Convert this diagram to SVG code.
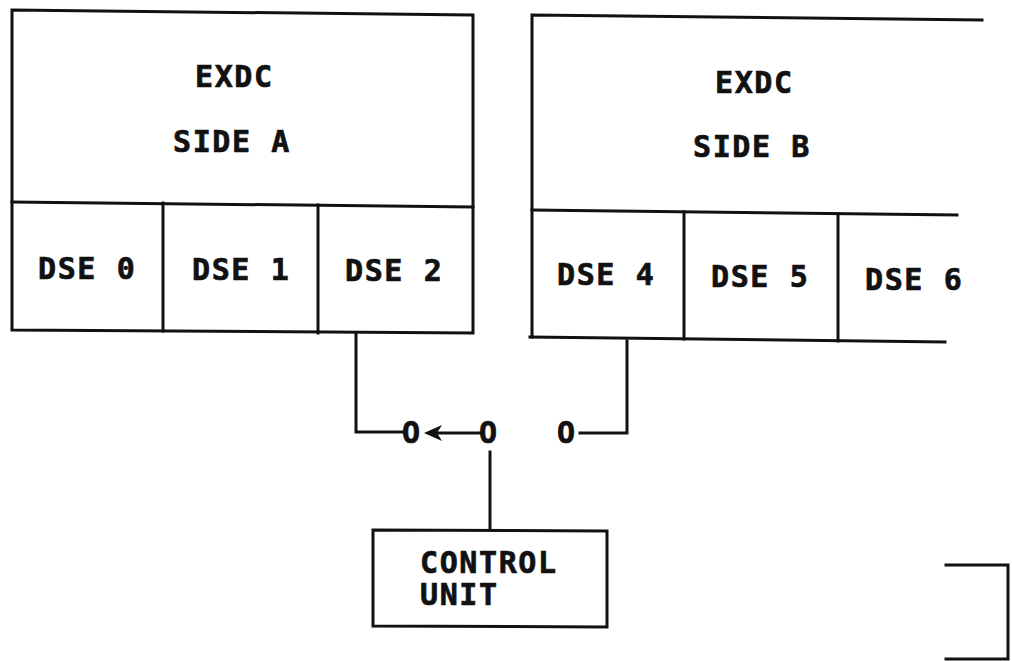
<svg xmlns="http://www.w3.org/2000/svg" width="1012" height="661" viewBox="0 0 1012 661">
<style>
.ln{fill:none;stroke:#111;stroke-width:3;stroke-linecap:square;stroke-linejoin:miter}
.t{font-family:"DejaVu Sans Mono","Liberation Mono",monospace;font-weight:bold;font-size:30px;letter-spacing:1.6px;fill:#111;stroke:#111;stroke-width:0.7}
</style>
<rect width="1012" height="661" fill="#fff"/>
<g id="sideA">
<path class="ln" d="M12,10 L473,15 L473,333 L12,330 Z"/>
<path class="ln" d="M12,202 L473,207"/>
<text class="t" x="195" y="87">EXDC</text>
<text class="t" x="173" y="152">SIDE A</text>
</g>
<g id="dse0"><text class="t" x="38" y="279">DSE 0</text></g>
<g id="dse1"><path class="ln" d="M163,203 L163,331"/><text class="t" x="192" y="280">DSE 1</text></g>
<g id="dse2"><path class="ln" d="M318,205 L318,333"/><text class="t" x="345" y="281">DSE 2</text></g>
<g id="sideB">
<path class="ln" d="M982,20 L532,15 L532,337"/>
<path class="ln" d="M532,210 L957,215"/>
<path class="ln" d="M530,337 L945,342"/>
<text class="t" x="715" y="93">EXDC</text>
<text class="t" x="693" y="157">SIDE B</text>
</g>
<g id="dse4"><text class="t" x="557" y="285">DSE 4</text></g>
<g id="dse5"><path class="ln" d="M684,212 L684,339"/><text class="t" x="711" y="287">DSE 5</text></g>
<g id="dse6"><path class="ln" d="M838,214 L838,341"/><text class="t" x="865" y="290">DSE 6</text></g>
<g id="controlUnit">
<path class="ln" d="M373,530 L607,531 L607,627 L373,626 Z"/>
<text class="t" x="420" y="573">CONTROL</text>
<text class="t" x="420" y="605">UNIT</text>
</g>
<g id="contacts">
<text class="t" x="402" y="443">O</text>
<text class="t" x="479" y="443">O</text>
<text class="t" x="557" y="443">O</text>
</g>
<g id="connectors">
<path class="ln" d="M356,334 L356,432 L403,432"/>
<path class="ln" d="M438,433 L480,433"/>
<polygon points="424,433 442,425 437,433 442,441" fill="#111"/>
<path class="ln" d="M580,433 L627,433 L627,341"/>
<path class="ln" d="M490,452 L490,529"/>
</g>
<g id="bracket">
<path class="ln" d="M946,565 L1008,565 L1008,659 L946,659"/>
</g>
</svg>
